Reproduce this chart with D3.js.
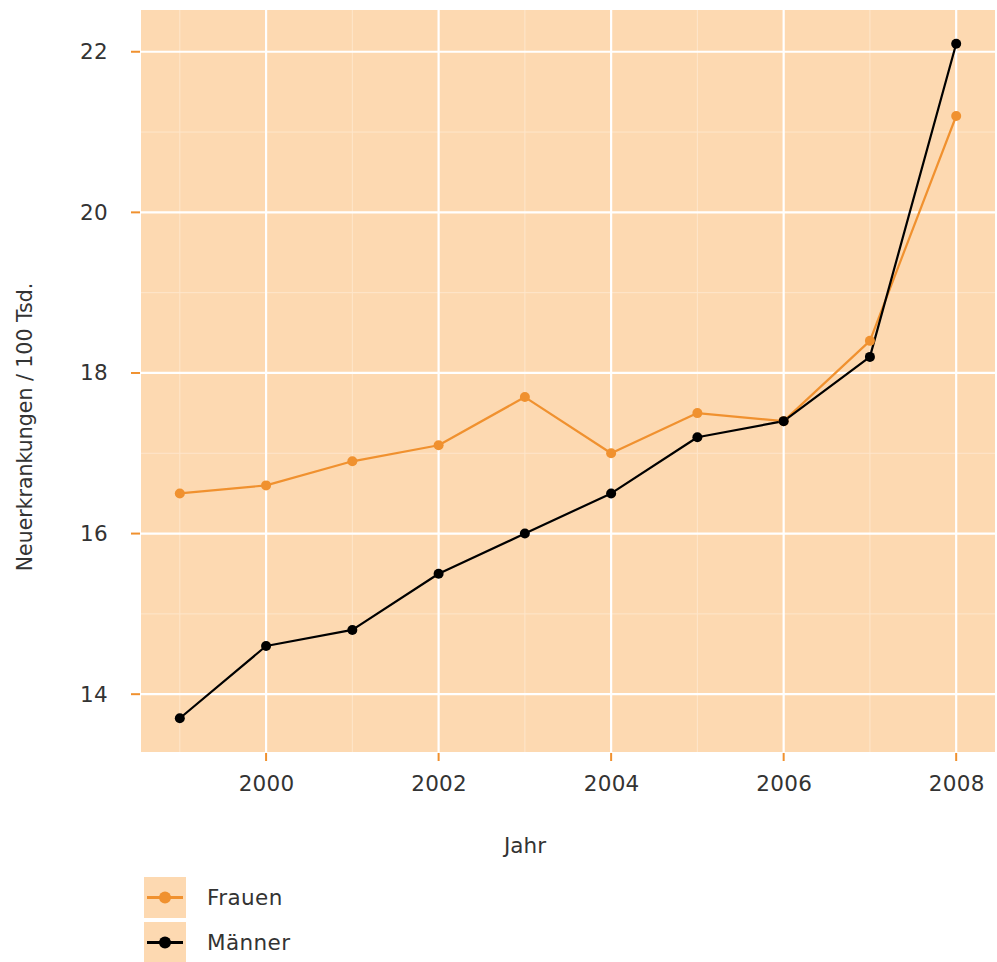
<!DOCTYPE html>
<html>
<head>
<meta charset="utf-8">
<script src="https://cdn.jsdelivr.net/npm/d3@7"></script>
<style>
  body { margin: 0; background: #fff; }
  text { font-family: "DejaVu Sans", sans-serif; fill: #333; }
</style>
</head>
<body>
<div id="chart"></div>
<script>
// data
var years = [1999, 2000, 2001, 2002, 2003, 2004, 2005, 2006, 2007, 2008];
var frauen = [16.5, 16.6, 16.9, 17.1, 17.7, 17.0, 17.5, 17.4, 18.4, 21.2];
var maenner = [13.7, 14.6, 14.8, 15.5, 16.0, 16.5, 17.2, 17.4, 18.2, 22.1];
var xTicks = [2000, 2002, 2004, 2006, 2008];
var yTicks = [14, 16, 18, 20, 22];
var seriesNames = ["Frauen", "Männer"];
var seriesColors = ["#f0912f", "#000000"];

var series = [
  {name: seriesNames[0], color: seriesColors[0], values: frauen},
  {name: seriesNames[1], color: seriesColors[1], values: maenner}
];

var W = 997, H = 962;
var margin = {top: 10, right: 2, bottom: 210, left: 141};
var width = W - margin.left - margin.right;
var height = H - margin.top - margin.bottom;
var fontSize = 21.5;

var svg = d3.select("#chart").append("svg")
  .attr("width", W).attr("height", H);

var g = svg.append("g")
  .attr("transform", "translate(" + margin.left + "," + margin.top + ")");

var x = d3.scaleLinear().domain([1998.55, 2008.45]).range([0, width]);
var y = d3.scaleLinear().domain([13.28, 22.52]).range([height, 0]);

// panel
g.append("rect")
  .attr("width", width).attr("height", height)
  .attr("fill", "#fdd9b1");

// minor grid
var xMinor = [1999, 2001, 2003, 2005, 2007];
var yMinor = [15, 17, 19, 21];
g.selectAll(".xminor").data(xMinor).enter().append("line")
  .attr("x1", d => x(d)).attr("x2", d => x(d))
  .attr("y1", 0).attr("y2", height)
  .attr("stroke", "#fee6cb").attr("stroke-width", 1);
g.selectAll(".yminor").data(yMinor).enter().append("line")
  .attr("y1", d => y(d)).attr("y2", d => y(d))
  .attr("x1", 0).attr("x2", width)
  .attr("stroke", "#fee6cb").attr("stroke-width", 1);

// major grid
g.selectAll(".xmajor").data(xTicks).enter().append("line")
  .attr("x1", d => x(d)).attr("x2", d => x(d))
  .attr("y1", 0).attr("y2", height)
  .attr("stroke", "#ffffff").attr("stroke-width", 2.2);
g.selectAll(".ymajor").data(yTicks).enter().append("line")
  .attr("y1", d => y(d)).attr("y2", d => y(d))
  .attr("x1", 0).attr("x2", width)
  .attr("stroke", "#ffffff").attr("stroke-width", 2.2);

// axes
var xAxis = g.append("g")
  .attr("transform", "translate(0," + height + ")")
  .call(d3.axisBottom(x).tickValues(xTicks).tickFormat(d3.format("d")).tickSize(0).tickPadding(24));
var yAxis = g.append("g")
  .call(d3.axisLeft(y).tickValues(yTicks).tickSize(0).tickPadding(33));

[xAxis, yAxis].forEach(function(a) {
  a.select(".domain").remove();
  a.selectAll("text").attr("font-size", fontSize).attr("fill", "#333")
    .attr("letter-spacing", 0.3)
    .style("font-family", "'DejaVu Sans', sans-serif");
});

// orange tick marks
g.selectAll(".xtick").data(xTicks).enter().append("line")
  .attr("x1", d => x(d)).attr("x2", d => x(d))
  .attr("y1", height + 1).attr("y2", height + 9)
  .attr("stroke", "#f0912f").attr("stroke-width", 2);
g.selectAll(".ytick").data(yTicks).enter().append("line")
  .attr("y1", d => y(d)).attr("y2", d => y(d))
  .attr("x1", -10).attr("x2", -1)
  .attr("stroke", "#f0912f").attr("stroke-width", 2);

// lines
var line = d3.line()
  .x(function(d, i) { return x(years[i]); })
  .y(function(d) { return y(d); });

g.selectAll(".series").data(series).enter().append("path")
  .attr("d", d => line(d.values))
  .attr("fill", "none")
  .attr("stroke", d => d.color)
  .attr("stroke-width", 2.2)
  .attr("stroke-linejoin", "round");

series.forEach(function(s) {
  g.selectAll(null).data(s.values).enter().append("circle")
    .attr("cx", (d, i) => x(years[i]))
    .attr("cy", d => y(d))
    .attr("r", 5)
    .attr("fill", s.color);
});

// axis titles
svg.append("text")
  .attr("x", 525).attr("y", 853)
  .attr("text-anchor", "middle").attr("font-size", fontSize)
  .text("Jahr");
svg.append("text")
  .attr("transform", "translate(32,427) rotate(-90)")
  .attr("text-anchor", "middle").attr("font-size", 20.5)
  .text("Neuerkrankungen / 100 Tsd.");

// legend
var legend = svg.append("g").attr("transform", "translate(144,877)");
var item = legend.selectAll("g").data(series).enter().append("g")
  .attr("transform", (d, i) => "translate(0," + i * 45 + ")");
item.append("rect")
  .attr("width", 42).attr("height", 41).attr("fill", "#fdd9b1");
item.append("line")
  .attr("x1", 3).attr("x2", 39).attr("y1", 20.5).attr("y2", 20.5)
  .attr("stroke", d => d.color).attr("stroke-width", 3);
item.append("circle")
  .attr("cx", 21).attr("cy", 20.5).attr("r", 6)
  .attr("fill", d => d.color);
item.append("text")
  .attr("x", 63).attr("y", 28)
  .attr("font-size", fontSize)
  .attr("letter-spacing", 0.4)
  .text(d => d.name);
</script>
</body>
</html>
